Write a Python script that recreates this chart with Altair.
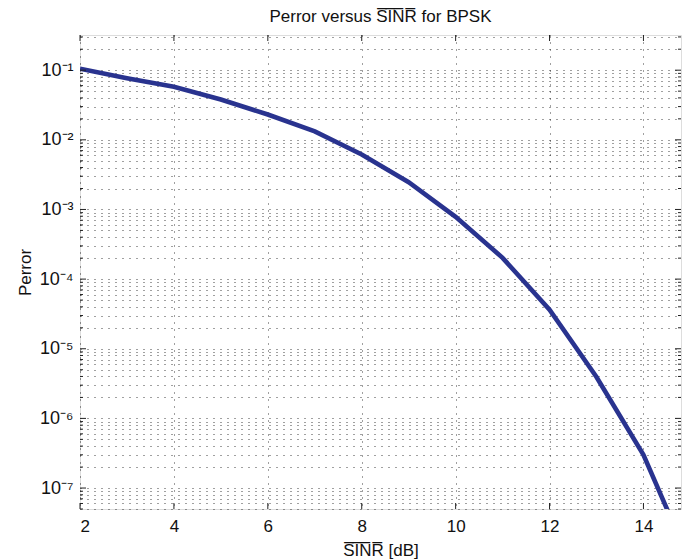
import altair as alt
import pandas as pd

# ---- data ----
sinr_db = [2, 3, 4, 5, 6, 7, 8, 9, 10, 11, 12, 13, 14, 15]
perror = [0.105, 0.0767, 0.0577, 0.0379, 0.0231, 0.0132, 0.00615,
          0.00246, 7.83e-4, 2.02e-4, 3.65e-5, 3.93e-6, 3.0e-7, 8.4e-9]

x_ticks = [2, 4, 6, 8, 10, 12, 14]
y_exponents = [-7, -6, -5, -4, -3, -2, -1]
x_domain = [2, 14.8]
y_domain = [5e-8, 0.32]

# ---- derived helpers ----
y_major = [10.0 ** e for e in y_exponents]
y_minor = []
for e in range(-8, 0):
    for m in range(2, 10):
        v = m * 10.0 ** e
        if y_domain[0] <= v <= y_domain[1]:
            y_minor.append(v)
y_all = sorted(y_major + y_minor)

SUP = {"-": "\u207b", "0": "\u2070", "1": "\u00b9", "2": "\u00b2", "3": "\u00b3",
       "4": "\u2074", "5": "\u2075", "6": "\u2076", "7": "\u2077", "8": "\u2078", "9": "\u2079"}


def sup_label(e):
    return "10" + "".join(SUP[c] for c in str(e))


label_expr = " : ".join(
    f"abs(log(datum.value)/LN10 - ({e})) < 0.01 ? '{sup_label(e)}'" for e in y_exponents
) + " : ''"

W, H = 601, 474
FONT = "Liberation Sans"
OVER = "S\u0305I\u0305N\u0305R\u0305"
GRID_DASH = [1, 6]

df = pd.DataFrame({"sinr": sinr_db, "perror": perror})
df_ymaj = pd.DataFrame({"v": y_major})
df_ymin = pd.DataFrame({"v": y_minor})
df_xmaj = pd.DataFrame({"x": x_ticks})

xscale = alt.Scale(domain=x_domain, nice=False, zero=False)
yscale = alt.Scale(type="log", domain=y_domain, nice=False)

line = alt.Chart(df).mark_line(color="#29338F", strokeWidth=4.6, clip=True).encode(
    x=alt.X("sinr:Q", scale=xscale,
            axis=alt.Axis(values=x_ticks, grid=True, gridDash=GRID_DASH, gridColor="#000",
                          gridOpacity=0.75, ticks=False, domain=False,
                          labelFont=FONT, labelFontSize=17, labelColor="#111",
                          labelPadding=9, title=OVER + " [dB]", titleFont=FONT,
                          titleFontSize=17, titleFontWeight="normal", titleColor="#111",
                          titleX=W / 2, titleY=46, titleBaseline="alphabetic")),
    y=alt.Y("perror:Q", scale=yscale,
            axis=alt.Axis(values=y_all, grid=True, gridDash=GRID_DASH, gridColor="#000",
                          gridOpacity=0.75, ticks=False, domain=False,
                          labelExpr=label_expr, labelFont=FONT, labelFontSize=18,
                          labelColor="#111", labelPadding=7, labelOverlap=False,
                          title="Perror", titleFont=FONT, titleFontSize=17,
                          titleFontWeight="normal", titleColor="#111",
                          titleX=-50, titleY=H / 2, titleBaseline="alphabetic")),
)

tick_col = "#222"
ymaj_l = alt.Chart(df_ymaj).mark_rule(color=tick_col, strokeWidth=1).encode(
    y=alt.Y("v:Q", scale=yscale), x=alt.value(0), x2=alt.value(6))
ymin_l = alt.Chart(df_ymin).mark_rule(color=tick_col, strokeWidth=1).encode(
    y=alt.Y("v:Q", scale=yscale), x=alt.value(0), x2=alt.value(3))
ymaj_r = alt.Chart(df_ymaj).mark_rule(color=tick_col, strokeWidth=1).encode(
    y=alt.Y("v:Q", scale=yscale), x=alt.value(W), x2=alt.value(W - 6))
ymin_r = alt.Chart(df_ymin).mark_rule(color=tick_col, strokeWidth=1).encode(
    y=alt.Y("v:Q", scale=yscale), x=alt.value(W), x2=alt.value(W - 3))
xmaj_b = alt.Chart(df_xmaj).mark_rule(color=tick_col, strokeWidth=1).encode(
    x=alt.X("x:Q", scale=xscale), y=alt.value(H), y2=alt.value(H - 6))
xmaj_t = alt.Chart(df_xmaj).mark_rule(color=tick_col, strokeWidth=1).encode(
    x=alt.X("x:Q", scale=xscale), y=alt.value(0), y2=alt.value(6))

title_df = pd.DataFrame({"t": ["Perror versus " + OVER + " for BPSK"]})
title_txt = alt.Chart(title_df).mark_text(
    font=FONT, fontSize=17, color="#111", baseline="alphabetic", align="center"
).encode(text="t:N", x=alt.value(W / 2), y=alt.value(-13))

chart = alt.layer(line, ymaj_l, ymin_l, ymaj_r, ymin_r, xmaj_b, xmaj_t, title_txt).properties(
    width=W, height=H,
    autosize=alt.AutoSizeParams(type="none"),
    padding={"left": 72, "top": 27, "right": 3, "bottom": 50},
).configure_view(stroke="#111", strokeWidth=1.2).configure(background="white")

chart.save("out.html", embed_options={"renderer": "svg", "actions": False})
